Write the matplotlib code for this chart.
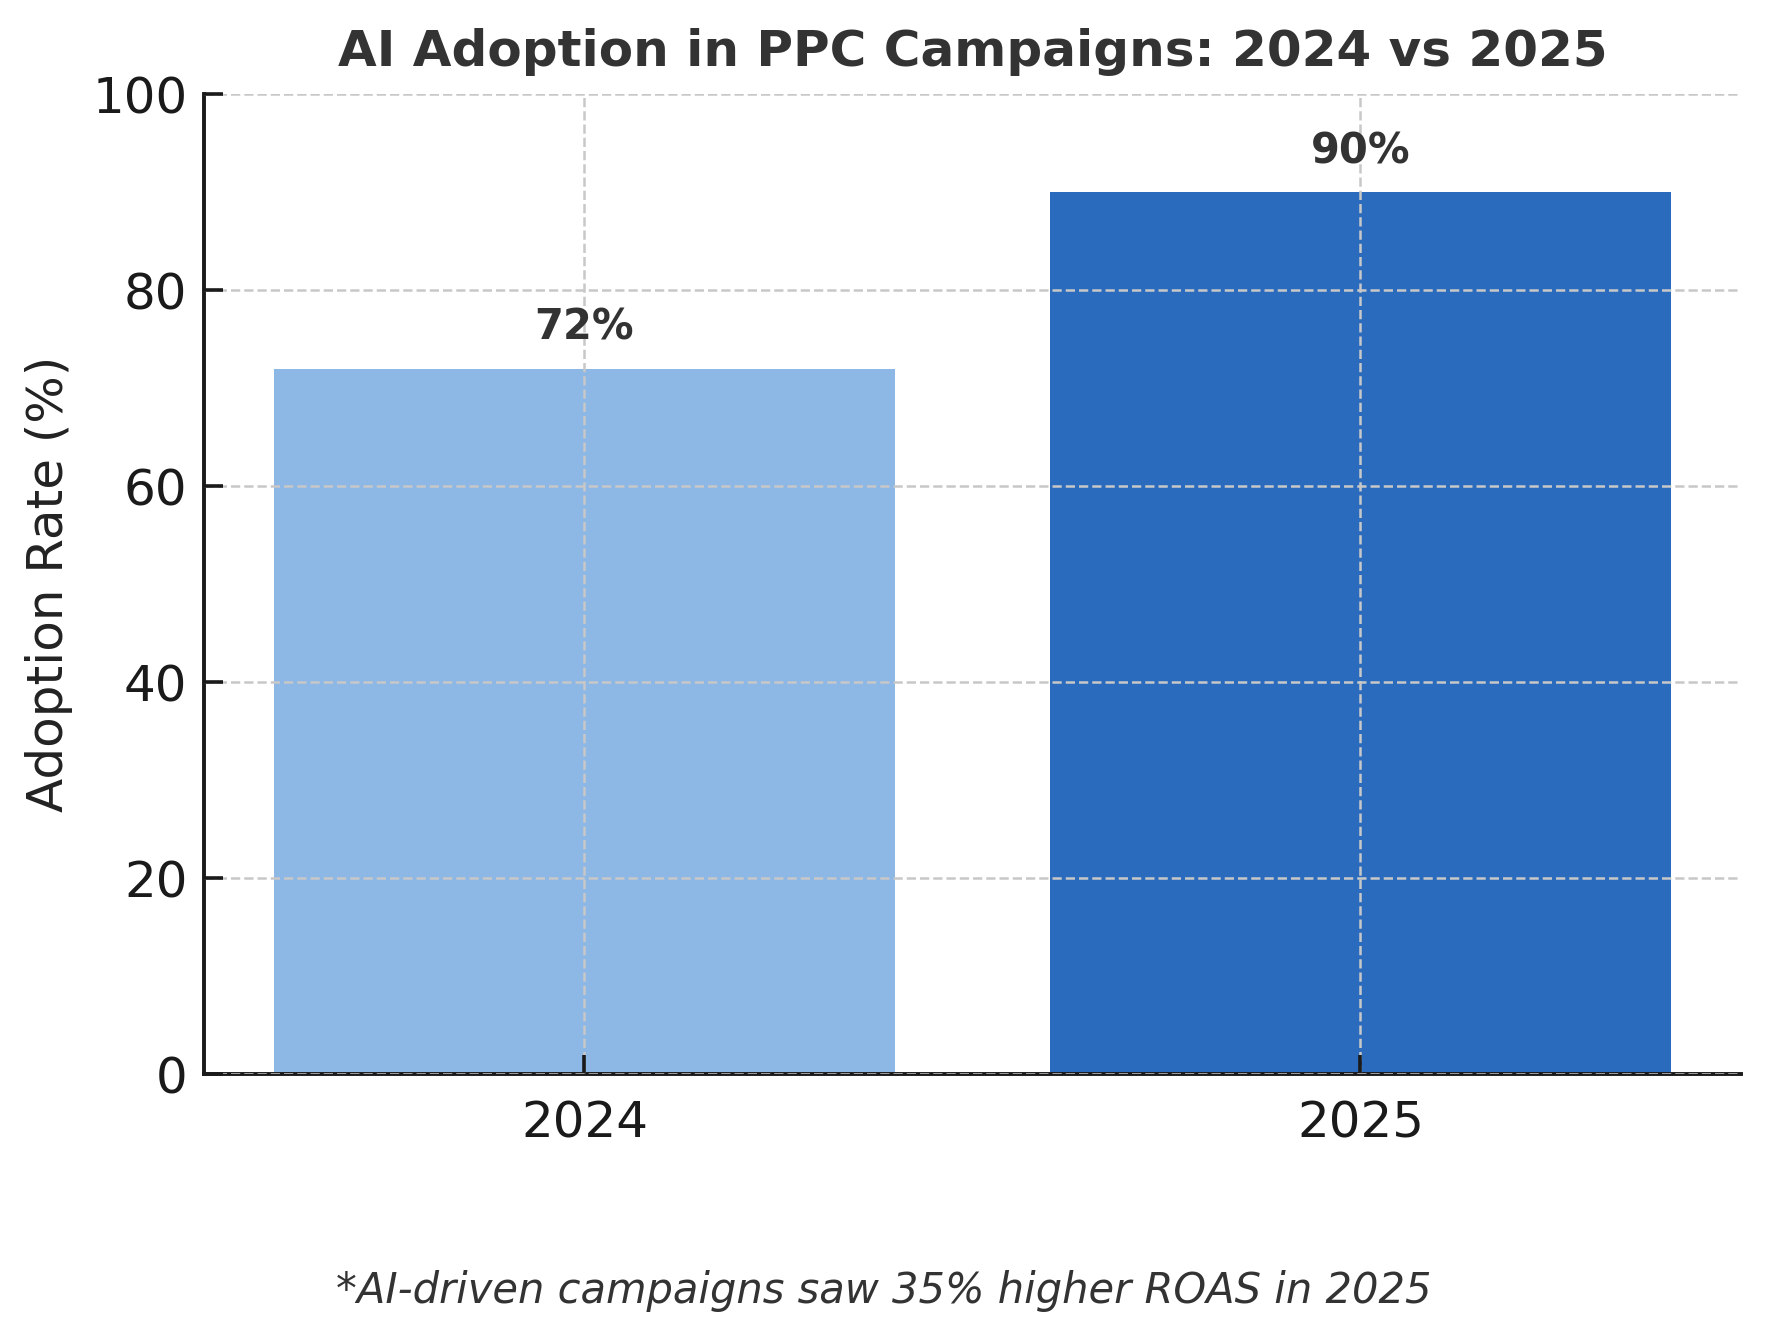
import matplotlib
matplotlib.use("Agg")
import matplotlib.pyplot as plt

years = ["2024", "2025"]
adoption = [72, 90]
bar_colors = ["#8DB7E5", "#2B6BBE"]
yticks = [0, 20, 40, 60, 80, 100]

plt.rcParams['font.family'] = ['DejaVu Sans']

fig = plt.figure(figsize=(8.84, 6.715), dpi=200)
ax = fig.add_axes([0.1155, 0.2, 0.869, 0.73])

x = range(len(years))
bars = ax.bar(x, adoption, width=0.8, color=bar_colors, zorder=2)
for b, v in zip(bars, adoption):
    ax.text(b.get_x() + b.get_width() / 2, v + 2, f"{v}%", ha="center", va="bottom",
            fontsize=15, fontweight="bold", color="#333333", zorder=3)

ax.set_xticks(list(x))
ax.set_xticklabels(years)
ax.set_yticks(yticks)
ax.set_ylim(0, 100)
ax.set_xlim(-0.49, 1.49)
ax.tick_params(axis="both", direction="in", length=7, width=1.3, labelsize=18, colors="#1a1a1a", pad=6)
ax.tick_params(axis="x", pad=9)

# grid drawn over the bars, like the original
ax.set_axisbelow(False)
ax.grid(True, linestyle="--", color="#c8c8c8", linewidth=0.9)

ax.spines["top"].set_visible(False)
ax.spines["right"].set_visible(False)
for side in ["left", "bottom"]:
    ax.spines[side].set_linewidth(1.4)
    ax.spines[side].set_color("#1a1a1a")

ax.set_ylabel("Adoption Rate (%)", fontsize=18, color="#222222", labelpad=7)
ax.set_title("AI Adoption in PPC Campaigns: 2024 vs 2025", fontsize=18, fontweight="bold",
             color="#333333", pad=10)

fig.text(0.5, 0.03, "*AI-driven campaigns saw 35% higher ROAS in 2025", ha="center",
         fontsize=15, style="italic", color="#333333")

fig.savefig("out.png", dpi=200)
